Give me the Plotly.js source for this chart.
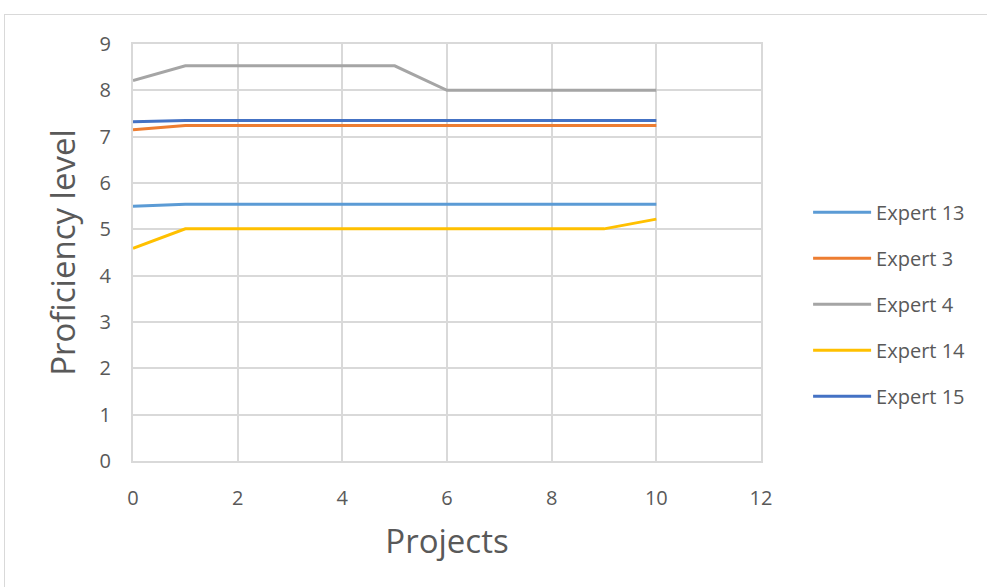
<!DOCTYPE html>
<html>
<head>
<meta charset="utf-8">
<script src="https://cdn.plot.ly/plotly-3.0.1.min.js"></script>
<style>
  html, body { margin: 0; padding: 0; background: #fff; }
  #chart { width: 987px; height: 587px; }
  #frame { position: absolute; left: 4px; top: 14px; width: 990px; height: 590px; border: 1px solid #d9d9d9; pointer-events: none; }
</style>
</head>
<body>
<div id="chart"></div>
<div id="frame"></div>
<script>
const projects = [0, 1, 2, 3, 4, 5, 6, 7, 8, 9, 10];
const seriesNames = ["Expert 13", "Expert 3", "Expert 4", "Expert 14", "Expert 15"];
const expert13 = [5.5, 5.54, 5.54, 5.54, 5.54, 5.54, 5.54, 5.54, 5.54, 5.54, 5.54];
const expert3  = [7.15, 7.24, 7.24, 7.24, 7.24, 7.24, 7.24, 7.24, 7.24, 7.24, 7.24];
const expert4  = [8.21, 8.53, 8.53, 8.53, 8.53, 8.53, 8.0, 8.0, 8.0, 8.0, 8.0];
const expert14 = [4.59, 5.01, 5.01, 5.01, 5.01, 5.01, 5.01, 5.01, 5.01, 5.01, 5.22];
const expert15 = [7.32, 7.35, 7.35, 7.35, 7.35, 7.35, 7.35, 7.35, 7.35, 7.35, 7.35];
const colors = ["#5B9BD5", "#ED7D31", "#A5A5A5", "#FFC000", "#4472C4"];
const xTicks = [0, 2, 4, 6, 8, 10, 12];
const yTicks = [0, 1, 2, 3, 4, 5, 6, 7, 8, 9];

const allY = [expert13, expert3, expert4, expert14, expert15];
const traces = allY.map((ys, i) => ({
  x: projects, y: ys, type: "scatter", mode: "lines",
  name: seriesNames[i], legendgroup: "g" + i,
  line: { color: colors[i], width: 3 }
}));

const FONT = "'Open Sans', 'Noto Sans', sans-serif";
const layout = {
  width: 987, height: 587,
  margin: { l: 133, r: 226, t: 44, b: 126 },
  paper_bgcolor: "#fff", plot_bgcolor: "#fff",
  font: { family: FONT, color: "#595959", size: 20 },
  showlegend: true,
  legend: {
    x: 1.075, xanchor: "left", y: 0.376, yanchor: "middle",
    traceorder: "grouped", tracegroupgap: 17, itemwidth: 58,
    font: { family: FONT, size: 20, color: "#595959" }
  },
  xaxis: {
    range: [0, 12], tickvals: xTicks, ticktext: xTicks.map(String),
    showgrid: true, gridcolor: "#d9d9d9", gridwidth: 2,
    showline: true, mirror: true, linecolor: "#d9d9d9", linewidth: 2,
    zeroline: false, ticks: "",
    ticklabelstandoff: 18, fixedrange: true,
    title: { text: "Projects", font: { family: FONT, size: 33, color: "#595959" }, standoff: 20 }
  },
  yaxis: {
    range: [0, 9], tickvals: yTicks, ticktext: yTicks.map(String),
    showgrid: true, gridcolor: "#d9d9d9", gridwidth: 2,
    showline: true, mirror: true, linecolor: "#d9d9d9", linewidth: 2,
    zeroline: false, ticks: "",
    ticklabelstandoff: 16, fixedrange: true,
    title: { text: "Proficiency level", font: { family: FONT, size: 33, color: "#595959" }, standoff: 14 }
  }
};

Plotly.newPlot("chart", traces, layout, { displayModeBar: false, staticPlot: true });
</script>
</body>
</html>
